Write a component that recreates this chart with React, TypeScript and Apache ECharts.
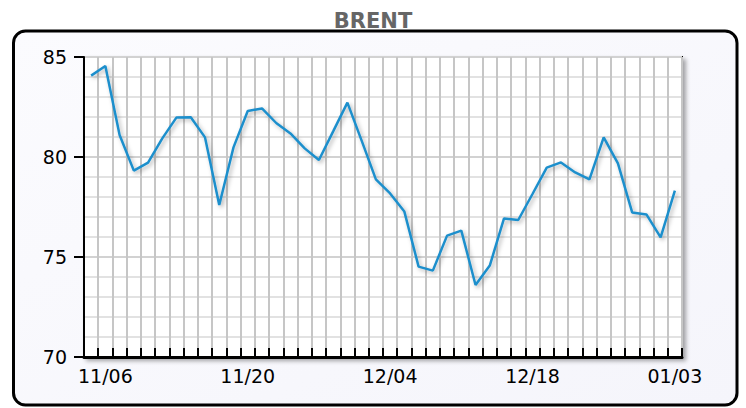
import React, { useEffect, useRef } from "react";
import * as echarts from "echarts";

const titleText = "BRENT";

const dates = [
  "11/03", "11/06", "11/07", "11/08", "11/09", "11/10",
  "11/13", "11/14", "11/15", "11/16", "11/17",
  "11/20", "11/21", "11/22", "11/23", "11/24",
  "11/27", "11/28", "11/29", "11/30", "12/01",
  "12/04", "12/05", "12/06", "12/07", "12/08",
  "12/11", "12/12", "12/13", "12/14", "12/15",
  "12/18", "12/19", "12/20", "12/21", "12/22",
  "12/26", "12/27", "12/28", "12/29",
  "01/02", "01/03",
];

const prices = [
  84.07, 84.55, 81.1, 79.32, 79.72, 80.93,
  81.98, 81.99, 80.98, 77.6, 80.48,
  82.3, 82.43, 81.7, 81.18, 80.43,
  79.85, 81.28, 82.72, 80.82, 78.88,
  78.18, 77.27, 74.52, 74.32, 76.07,
  76.32, 73.6, 74.57, 76.93, 76.85,
  78.15, 79.47, 79.73, 79.23, 78.88,
  80.98, 79.68, 77.23, 77.13,
  75.98, 78.32,
];

const yMin = 70;
const yMax = 85;
const yStep = 5;

const FONT = "DejaVu Sans";

export default function App() {
  const ref = useRef<HTMLDivElement>(null);

  useEffect(() => {
    if (!ref.current) return;
    const chart = echarts.init(ref.current, null, { renderer: "svg" });
    chart.setOption({
      animation: false,
      backgroundColor: "#ffffff",
      title: {
        text: titleText,
        left: "center",
        top: 5,
        textStyle: {
          fontFamily: FONT,
          fontSize: 21,
          fontWeight: "bold",
          color: "#666666",
        },
      },
      graphic: [
        {
          type: "rect",
          z: -10,
          shape: { x: 13.5, y: 31, width: 723.5, height: 374, r: 12 },
          style: {
            fill: new echarts.graphic.LinearGradient(0, 0, 1, 1, [
              { offset: 0, color: "#fbfbfe" },
              { offset: 1, color: "#f5f5fb" },
            ]),
            stroke: "#000000",
            lineWidth: 3,
          },
        },
      ],
      grid: {
        left: 84,
        top: 57,
        width: 598,
        height: 300,
        show: true,
        backgroundColor: "#ffffff",
        borderColor: "#000000",
        borderWidth: 2,
        shadowColor: "rgba(0,0,0,0.35)",
        shadowBlur: 4,
        shadowOffsetX: 3,
        shadowOffsetY: 3,
      },
      xAxis: {
        type: "category",
        data: dates,
        boundaryGap: true,
        axisLine: { show: true, lineStyle: { color: "#000000", width: 3 } },
        axisTick: {
          show: true,
          inside: true,
          length: 9,
          interval: 0,
          lineStyle: { color: "#000000", width: 2 },
        },
        splitLine: {
          show: true,
          interval: 0,
          lineStyle: { color: "#c6c6c6", width: 2 },
        },
        axisLabel: {
          interval: (index: number) => index % 10 === 1,
          fontFamily: FONT,
          fontSize: 19,
          color: "#000000",
          margin: 9,
        },
      },
      yAxis: {
        type: "value",
        min: yMin,
        max: yMax,
        interval: yStep,
        axisLine: { show: true, lineStyle: { color: "#000000", width: 2 } },
        axisTick: {
          show: true,
          inside: false,
          length: 10,
          lineStyle: { color: "#000000", width: 2 },
        },
        minorTick: { show: false, splitNumber: 5 },
        splitLine: { show: true, lineStyle: { color: "#d2d2d2", width: 2 } },
        minorSplitLine: { show: true, lineStyle: { color: "#e2e2e2", width: 2 } },
        axisLabel: {
          fontFamily: FONT,
          fontSize: 19,
          color: "#000000",
          margin: 17,
        },
      },
      series: [
        {
          type: "line",
          data: prices,
          symbol: "none",
          lineStyle: {
            color: "#1e8fcc",
            width: 2.5,
            shadowColor: "rgba(0,0,0,0.3)",
            shadowBlur: 4,
            shadowOffsetX: 2,
            shadowOffsetY: 2,
          },
        },
      ],
    });
    return () => chart.dispose();
  }, []);

  return (
    <div
      ref={ref}
      style={{ position: "absolute", left: 0, top: 0, width: 746, height: 408 }}
    />
  );
}
